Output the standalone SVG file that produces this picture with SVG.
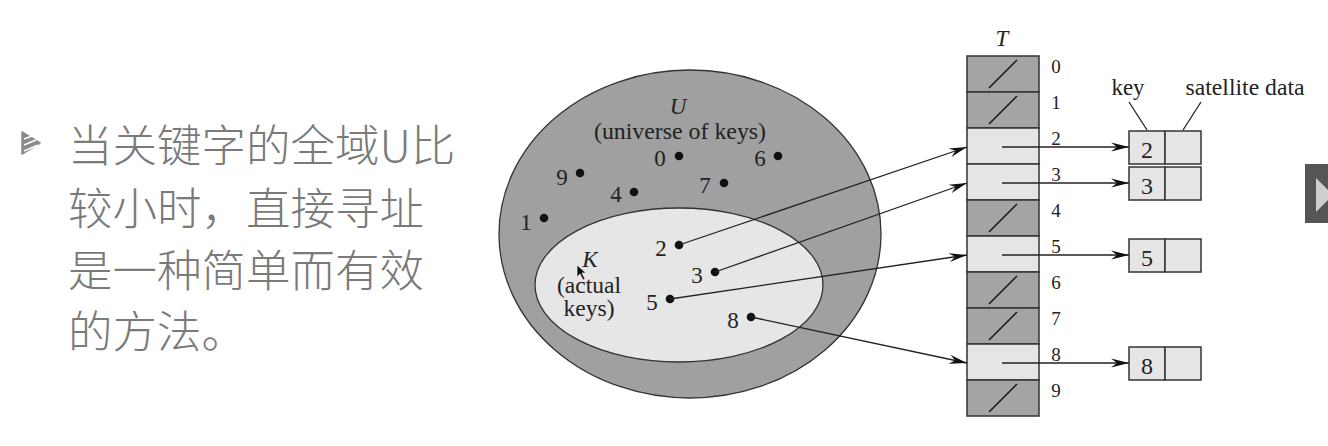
<svg xmlns="http://www.w3.org/2000/svg" width="1328" height="446" viewBox="0 0 1328 446">
<style>
.cn{font-family:"Noto Sans CJK SC","Noto Sans",sans-serif;font-size:44.5px;font-weight:300;fill:#7a7a7a}
.d{font-family:"Liberation Serif","Times New Roman",Times,serif;font-size:23px;fill:#222;text-anchor:middle}
.rl{font-family:"Liberation Serif","Times New Roman",Times,serif;font-size:19px;fill:#222;text-anchor:middle}
.kd{font-family:"Liberation Serif","Times New Roman",Times,serif;font-size:24px;fill:#222;text-anchor:middle}
.it{font-style:italic}
.dark{fill:#a4a4a4;stroke:#333;stroke-width:1.5}
.light{fill:#e5e5e5;stroke:#333;stroke-width:1.5}
.sl{stroke:#111;stroke-width:1.4}
.dot{fill:#111}
.con{stroke:#222;stroke-width:1.3;fill:none;marker-end:url(#ah)}
.ptr{stroke:#222;stroke-width:1.3;fill:none}
</style>
<defs>
<marker id="ah" markerUnits="userSpaceOnUse" markerWidth="20" markerHeight="12" refX="18" refY="6" orient="auto" viewBox="0 0 20 12">
<path d="M0,1.5 L18,6 L0,10.5 L6,6 z" fill="#111"/>
</marker>
</defs>
<rect width="1328" height="446" fill="#ffffff"/>

<g id="bullet-text">
<g id="bullet">
<path d="M22,132 L40,143 L22,154 z" fill="#8a8a8a" stroke="#8a8a8a" stroke-width="1.5" stroke-linejoin="round"/>
<path d="M24,139 L32,136 M24,145 L36,140 M24,151 L38,145" stroke="#fff" stroke-width="1.5"/>
</g>
<text class="cn" x="68" y="162">当关键字的全域U比</text>
<text class="cn" x="68" y="225">较小时，直接寻址</text>
<text class="cn" x="68" y="287">是一种简单而有效</text>
<text class="cn" x="68" y="348">的方法。</text>
</g>

<g id="universe">
<ellipse cx="690" cy="234" rx="191" ry="164" fill="#a0a0a0" stroke="#333" stroke-width="1.3"/>
<text class="d it" x="678" y="114">U</text>
<text class="d" x="680" y="139" textLength="172" lengthAdjust="spacingAndGlyphs">(universe of keys)</text>
</g>
<g id="actual-keys">
<ellipse cx="679" cy="285" rx="144" ry="77" fill="#e6e6e6" stroke="#333" stroke-width="1.3"/>
<text class="d it" x="590" y="267">K</text>
<text class="d" x="589" y="293" textLength="64" lengthAdjust="spacingAndGlyphs">(actual</text>
<text class="d" x="589" y="316" textLength="51" lengthAdjust="spacingAndGlyphs">keys)</text>
</g>
<g id="cursor">
<path d="M577,265 L577,277 L580,274 L583,280 L585,279 L582,273 L586,273 z" fill="#111" stroke="#fff" stroke-width="0.6"/>
</g>

<g id="keys">
<g id="k0"><circle class="dot" cx="679" cy="156" r="4.3"/><text class="d" x="660" y="166">0</text></g>
<g id="k6"><circle class="dot" cx="778" cy="156" r="4.3"/><text class="d" x="760" y="166">6</text></g>
<g id="k9"><circle class="dot" cx="580" cy="173" r="4.3"/><text class="d" x="562" y="185">9</text></g>
<g id="k4"><circle class="dot" cx="634" cy="192" r="4.3"/><text class="d" x="616" y="202">4</text></g>
<g id="k7"><circle class="dot" cx="724" cy="183" r="4.3"/><text class="d" x="705" y="193">7</text></g>
<g id="k1"><circle class="dot" cx="544" cy="218" r="4.3"/><text class="d" x="526" y="230">1</text></g>
<g id="k2"><circle class="dot" cx="679" cy="245" r="4.3"/><text class="d" x="661" y="256">2</text></g>
<g id="k3"><circle class="dot" cx="715" cy="272" r="4.3"/><text class="d" x="697" y="283">3</text></g>
<g id="k5"><circle class="dot" cx="670" cy="299" r="4.3"/><text class="d" x="652" y="310">5</text></g>
<g id="k8"><circle class="dot" cx="751" cy="317" r="4.3"/><text class="d" x="733" y="328">8</text></g>
</g>

<g id="table-T">
<text class="d it" x="1002" y="46">T</text>
<rect class="dark" x="967" y="56" width="72" height="36"/>
<rect class="dark" x="967" y="92" width="72" height="36"/>
<rect class="light" x="967" y="128" width="72" height="36"/>
<rect class="light" x="967" y="164" width="72" height="36"/>
<rect class="dark" x="967" y="200" width="72" height="36"/>
<rect class="light" x="967" y="236" width="72" height="36"/>
<rect class="dark" x="967" y="272" width="72" height="36"/>
<rect class="dark" x="967" y="308" width="72" height="36"/>
<rect class="light" x="967" y="344" width="72" height="36"/>
<rect class="dark" x="967" y="380" width="72" height="36"/>
<line class="sl" x1="989" y1="88" x2="1017" y2="60"/>
<line class="sl" x1="989" y1="124" x2="1017" y2="96"/>
<line class="sl" x1="989" y1="232" x2="1017" y2="204"/>
<line class="sl" x1="989" y1="304" x2="1017" y2="276"/>
<line class="sl" x1="989" y1="340" x2="1017" y2="312"/>
<line class="sl" x1="989" y1="412" x2="1017" y2="384"/>
<text class="rl" x="1056" y="73">0</text>
<text class="rl" x="1056" y="109">1</text>
<text class="rl" x="1056" y="145">2</text>
<text class="rl" x="1056" y="181">3</text>
<text class="rl" x="1056" y="217">4</text>
<text class="rl" x="1056" y="253">5</text>
<text class="rl" x="1056" y="289">6</text>
<text class="rl" x="1056" y="325">7</text>
<text class="rl" x="1056" y="361">8</text>
<text class="rl" x="1056" y="397">9</text>
</g>

<g id="elements">
<text class="d" x="1128" y="95" textLength="33" lengthAdjust="spacingAndGlyphs">key</text>
<text class="d" x="1245" y="95" textLength="119" lengthAdjust="spacingAndGlyphs">satellite data</text>
<line class="ptr" x1="1129" y1="102" x2="1147" y2="130"/>
<line class="ptr" x1="1201" y1="102" x2="1183" y2="130"/>
<g id="e2"><rect class="light" x="1129" y="131" width="36" height="33"/><rect class="light" x="1165" y="131" width="36" height="33"/><text class="kd" x="1147" y="158">2</text></g>
<g id="e3"><rect class="light" x="1129" y="167" width="36" height="33"/><rect class="light" x="1165" y="167" width="36" height="33"/><text class="kd" x="1147" y="194">3</text></g>
<g id="e5"><rect class="light" x="1129" y="239" width="36" height="33"/><rect class="light" x="1165" y="239" width="36" height="33"/><text class="kd" x="1147" y="266">5</text></g>
<g id="e8"><rect class="light" x="1129" y="347" width="36" height="33"/><rect class="light" x="1165" y="347" width="36" height="33"/><text class="kd" x="1147" y="374">8</text></g>
</g>

<g id="connectors">
<line class="con" x1="679" y1="245" x2="967" y2="147"/>
<line class="con" x1="715" y1="272" x2="967" y2="183"/>
<line class="con" x1="670" y1="299" x2="967" y2="255"/>
<line class="con" x1="751" y1="317" x2="967" y2="363"/>
<line class="con" x1="1002" y1="147" x2="1129" y2="147"/>
<line class="con" x1="1002" y1="183" x2="1129" y2="183"/>
<line class="con" x1="1002" y1="255" x2="1129" y2="255"/>
<line class="con" x1="1002" y1="363" x2="1129" y2="363"/>
</g>

<g id="next-button">
<rect x="1305" y="164" width="23" height="59" fill="#555"/>
<path d="M1316,178 L1316,212 L1333,195 z" fill="#cfcfcf"/>
</g>
</svg>
